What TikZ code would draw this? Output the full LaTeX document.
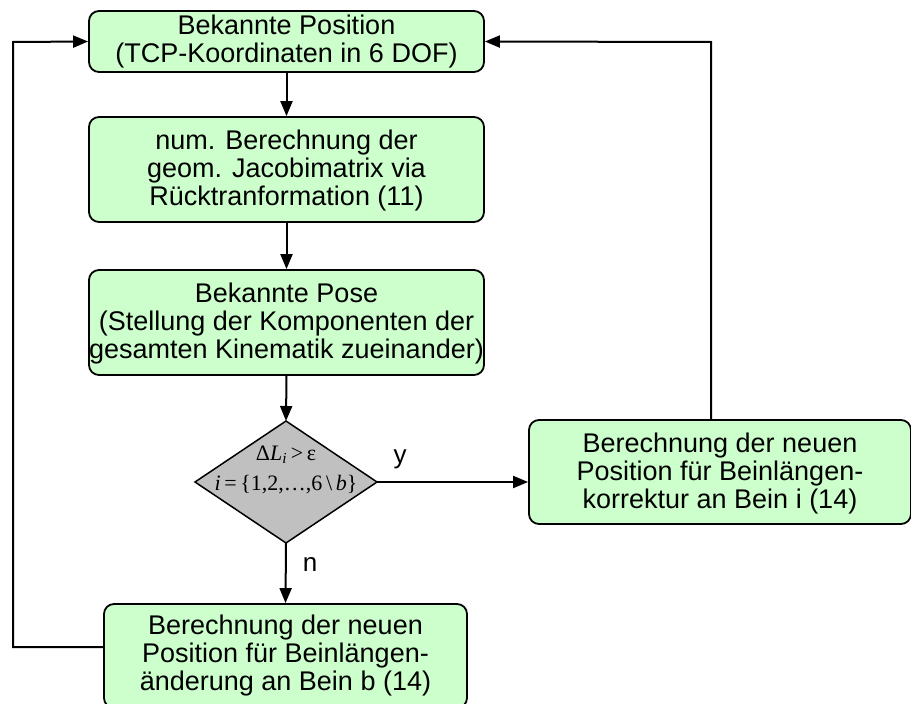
\documentclass[tikz,border=0pt]{standalone}
\usepackage{fontspec}
\setmainfont{Liberation Sans}
\newfontfamily\tms{Liberation Serif}
\usetikzlibrary{arrows.meta,shapes.geometric}
\definecolor{boxgreen}{HTML}{CCFFCC}
\definecolor{diagray}{HTML}{C0C0C0}
\begin{document}
\begin{tikzpicture}[x=1pt,y=-1pt,
  box/.style={draw=black,line width=1.8pt,fill=boxgreen,rounded corners=10pt,
    align=center,font=\fontsize{27}{28}\selectfont,inner sep=0pt},
  conn/.style={line width=2pt,-{Triangle[length=15pt,width=12pt]}},
  lbl/.style={font=\fontsize{26}{26}\selectfont}]
\useasboundingbox (0,0) rectangle (911,704);
\node[box,minimum width=395pt,minimum height=61pt] (b1) at (286.5,41.5)
  {Bekannte Position\\(TCP-Koordinaten in 6 DOF)};
\node[box,minimum width=395pt,minimum height=105pt] (b2) at (286.5,169.5)
  {\rule{0pt}{22pt}num. Berechnung der\\geom. Jacobimatrix via\\Rücktranformation (11)};
\node[box,minimum width=395pt,minimum height=105pt] (b3) at (286.5,322.5)
  {\rule{0pt}{22pt}Bekannte Pose\\ (Stellung der Komponenten der\\gesamten Kinematik zueinander)};
\draw[line width=1.5pt,fill=diagray] (286,421) coordinate (dt) -- (377,482) coordinate (dr)
  -- (286,543) coordinate (db) -- (195,482) coordinate (dl) -- cycle;
\node[font=\tms\fontsize{22}{30}\selectfont,align=center,inner sep=0pt] (dtext) at (286,470)
  {Δ\textit{L}\textsubscript{\textit{i}}\,>\,ε\\\textit{i}\,=\,\{1,2,\ldots,6\,\textbackslash\,\textit{b}\}};
\node[box,minimum width=382pt,minimum height=104pt] (b4) at (720,472)
  {\rule{0pt}{22pt}Berechnung der neuen\\Position für Beinlängen-\\korrektur an Bein i (14)};
\node[box,minimum width=363pt,minimum height=104pt] (b5) at (285.5,656)
  {Berechnung der neuen\\Position für Beinlängen-\\änderung an Bein b (14)};
\draw[conn] (b1.south) -- (b2.north);
\draw[conn] (b2.south) -- (b3.north);
\draw[conn] (b3.south) -- (dt);
\draw[conn] (db) -- (b5.north);
\draw[conn] (dr) -- (b4.west |- dr);
\node[lbl] (ylab) at (400,459) {y};
\node[lbl] (nlab) at (310,565) {n};
\coordinate (lc1) at (13,647);
\coordinate (lc2) at (13,42);
\draw[conn] (b5.west |- lc1) -- (lc1) -- (lc2) -- (b1.west);
\coordinate (rc1) at (711,42);
\draw[conn] (b4.north -| rc1) -- (rc1) -- (b1.east);
\end{tikzpicture}
\end{document}
